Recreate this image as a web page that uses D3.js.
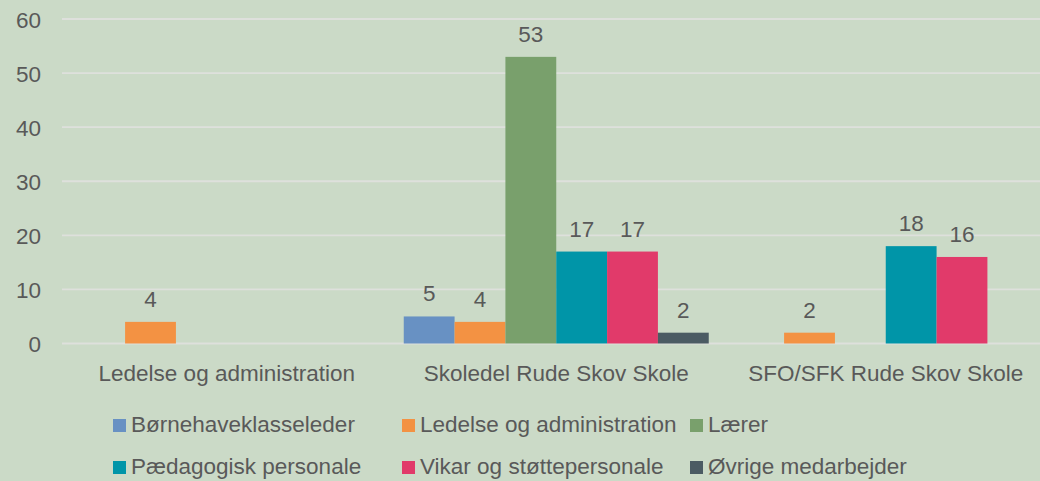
<!DOCTYPE html>
<html>
<head>
<meta charset="utf-8">
<script src="https://cdn.jsdelivr.net/npm/d3@7"></script>
<style>
  html, body { margin: 0; padding: 0; background: #CBDAC7; }
  svg { display: block; }
  text { font-family: "Liberation Sans", Arial, sans-serif; fill: #595959; }
</style>
</head>
<body>
<svg id="chart" width="1040" height="481"></svg>
<script>
const categories = ["Ledelse og administration", "Skoledel Rude Skov Skole", "SFO/SFK Rude Skov Skole"];
const seriesNames = ["Børnehaveklasseleder", "Ledelse og administration", "Lærer", "Pædagogisk personale", "Vikar og støttepersonale", "Øvrige medarbejder"];
const seriesColors = ["#6891C3", "#F39243", "#79A06C", "#0095A8", "#E13A6A", "#4B5B63"];
const boernehaveklasseleder = [null, 5, null];
const ledelseOgAdministration = [4, 4, 2];
const laerer = [null, 53, null];
const paedagogiskPersonale = [null, 17, 18];
const vikarOgStoettepersonale = [null, 17, 16];
const oevrigeMedarbejder = [null, 2, null];
const yTicks = [0, 10, 20, 30, 40, 50, 60];

const seriesValues = [boernehaveklasseleder, ledelseOgAdministration, laerer, paedagogiskPersonale, vikarOgStoettepersonale, oevrigeMedarbejder];

const svg = d3.select("#chart");
const fs = 22.5;

const y = d3.scaleLinear().domain([0, 60]).range([343.5, 19]);
const x0 = d3.scaleBand().domain(categories).range([62, 1050.5]).paddingInner(0.0744).paddingOuter(0.0372);
const x1 = d3.scaleBand().domain(seriesNames).range([0, x0.bandwidth()]).padding(0);

// gridlines
svg.append("g").selectAll("line").data(yTicks).join("line")
  .attr("x1", 62).attr("x2", 1040)
  .attr("y1", d => y(d)).attr("y2", d => y(d))
  .attr("stroke", "#DEE0DC").attr("stroke-width", 1.8);

// y axis labels
const yAxis = d3.axisLeft(y).tickValues(yTicks).tickSize(0).tickPadding(0);
const ya = svg.append("g").attr("transform", "translate(41,0)").call(yAxis);
ya.select(".domain").remove();
ya.selectAll("text").style("font-size", fs + "px").attr("fill", "#595959").attr("dy", "0.36em");

// bars
const groups = svg.append("g").selectAll("g").data(categories).join("g")
  .attr("transform", d => `translate(${x0(d)},0)`);

groups.each(function(cat, ci) {
  const g = d3.select(this);
  const data = seriesNames.map((s, si) => ({ s, si, v: seriesValues[si][ci] })).filter(d => d.v !== null);
  g.selectAll("rect").data(data).join("rect")
    .attr("x", d => x1(d.s)).attr("width", x1.bandwidth())
    .attr("y", d => y(d.v)).attr("height", d => y(0) - y(d.v))
    .attr("fill", d => seriesColors[d.si]);
  g.selectAll("text").data(data).join("text")
    .attr("x", d => x1(d.s) + x1.bandwidth() / 2)
    .attr("y", d => y(d.v) - 15)
    .attr("text-anchor", "middle")
    .style("font-size", fs + "px")
    .text(d => d.v);
});

// x axis labels
const xAxis = d3.axisBottom(x0).tickSize(0).tickPadding(0);
const xa = svg.append("g").attr("transform", "translate(0,381)").call(xAxis);
xa.select(".domain").remove();
xa.selectAll("text").style("font-size", fs + "px").attr("fill", "#595959").attr("dy", 0).attr("y", 0);

// legend
const legendCols = [113, 402, 690];
const legendRows = [432, 474];
const leg = svg.append("g").selectAll("g").data(seriesNames).join("g")
  .attr("transform", (d, i) => `translate(${legendCols[i % 3]},${legendRows[Math.floor(i / 3)]})`);
leg.append("rect").attr("x", 0).attr("y", -13).attr("width", 13).attr("height", 13)
  .attr("fill", (d, i) => seriesColors[i]);
leg.append("text").attr("x", 18).attr("y", 0).style("font-size", fs + "px").text(d => d);
</script>
</body>
</html>
